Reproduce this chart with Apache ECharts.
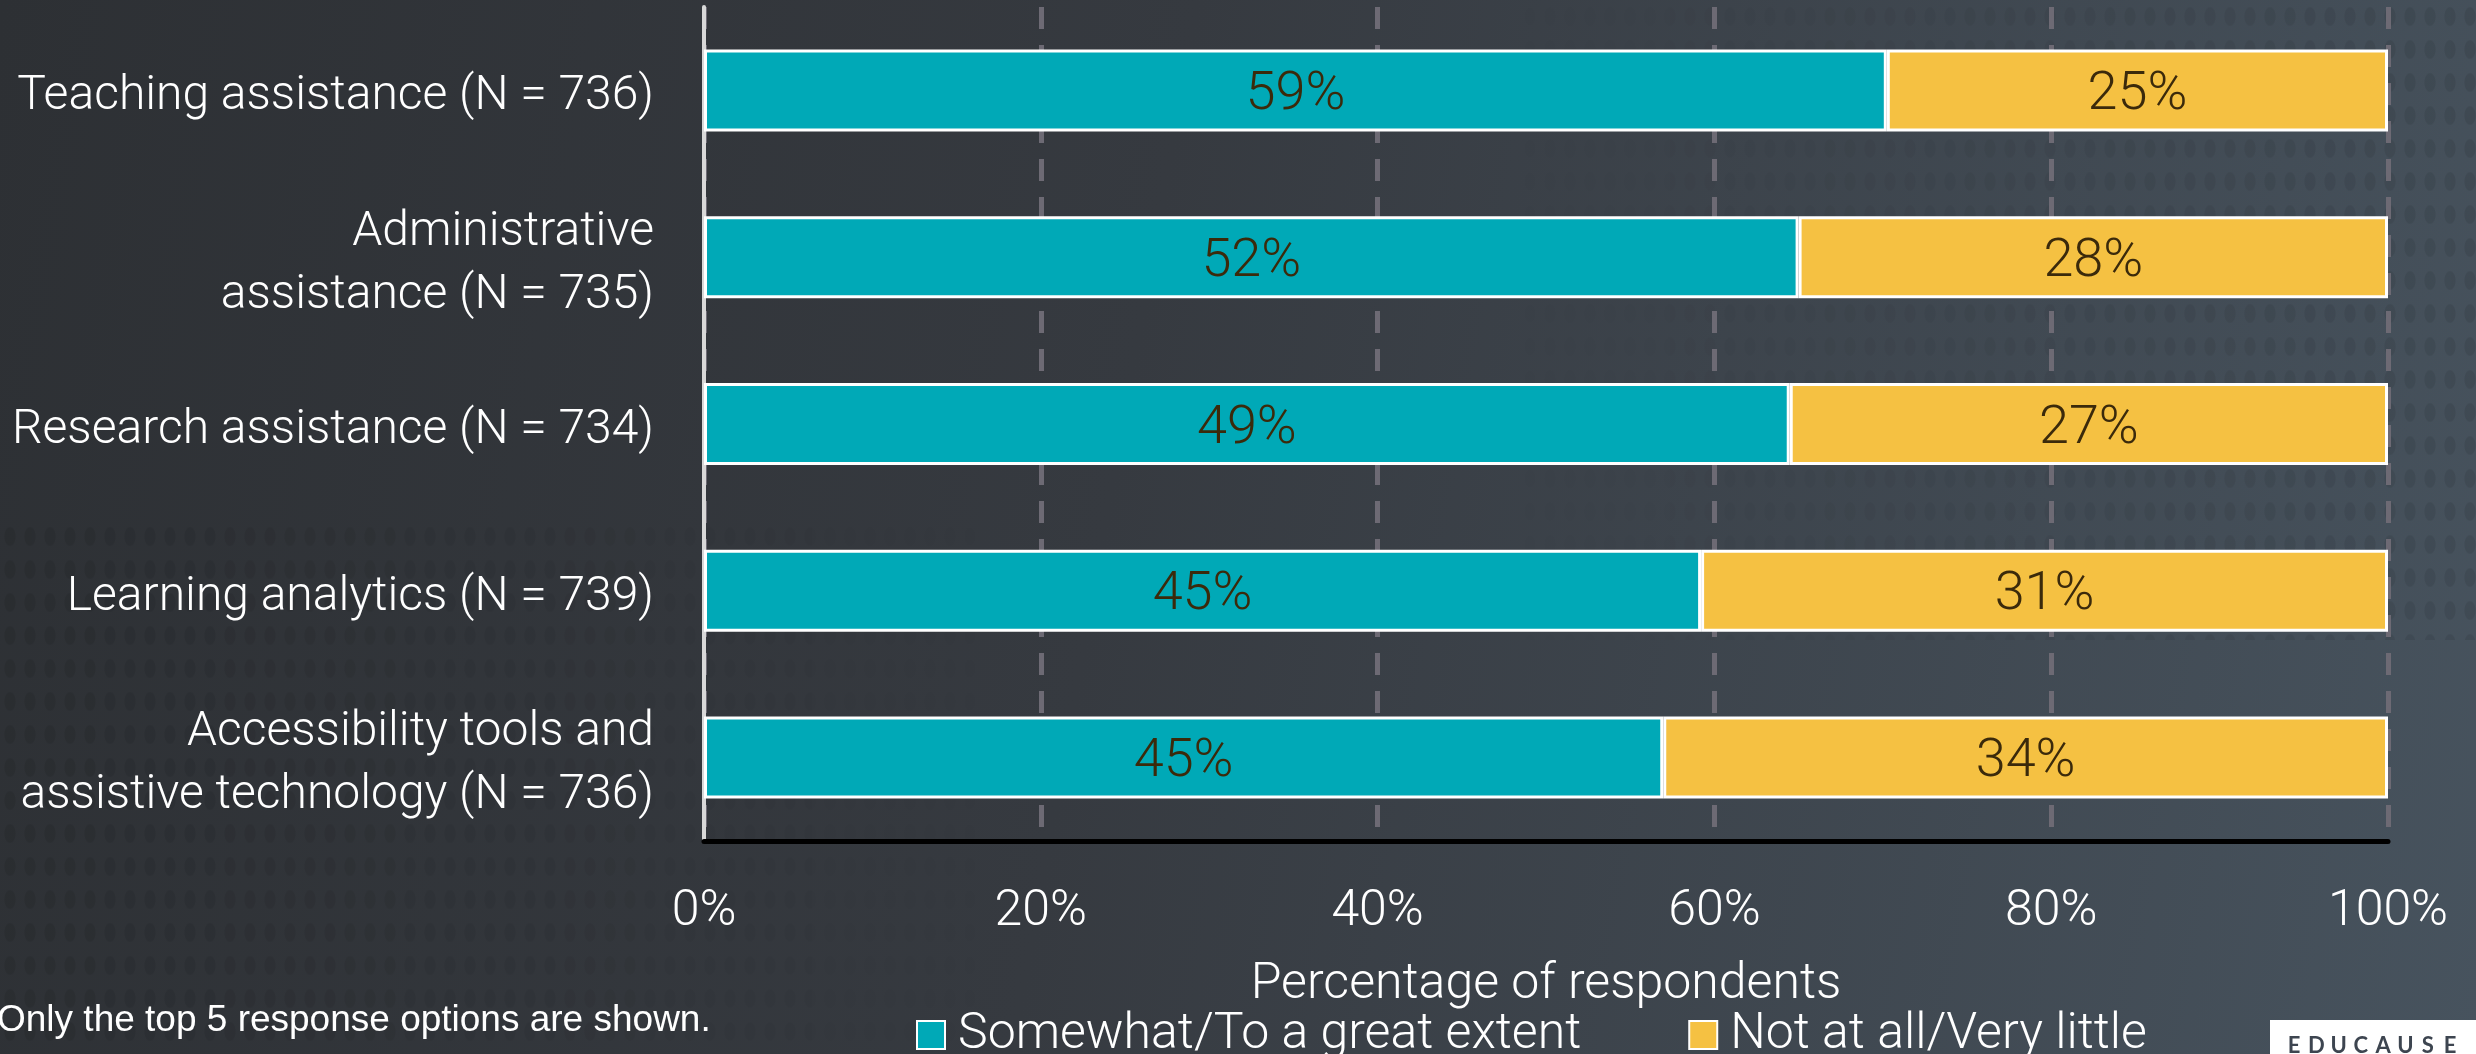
<!DOCTYPE html>
<html>
<head>
<meta charset="utf-8">
<title>AI use cases</title>
<script src="https://cdn.jsdelivr.net/npm/echarts@6.0.0/dist/echarts.min.js"></script>
<style>
  html, body { margin: 0; padding: 0; }
  #chart {
    position: relative;
    z-index: 0;
    width: 2476px;
    height: 1054px;
    background: linear-gradient(100deg, #2d3034 0%, #363a40 45%, #47535e 100%);
  }
  /* faint halftone dots behind the chart */
  #chart::before, #chart::after {
    content: '';
    position: absolute;
    z-index: -1;
    pointer-events: none;
    background-image: radial-gradient(ellipse 6px 10px at 50% 50%, rgba(0, 0, 0, 0.08) 0, rgba(0, 0, 0, 0.08) 85%, transparent 100%);
    background-size: 20px 33px;
  }
  #chart::before {
    left: 0; top: 520px; width: 1000px; height: 534px;
    -webkit-mask-image: linear-gradient(to right, #000 0%, rgba(0,0,0,0.6) 50%, transparent 100%);
    mask-image: linear-gradient(to right, #000 0%, rgba(0,0,0,0.6) 50%, transparent 100%);
  }
  #chart::after {
    left: 1500px; top: 0; width: 976px; height: 640px;
    -webkit-mask-image: linear-gradient(to left, #000 0%, rgba(0,0,0,0.5) 50%, transparent 100%);
    mask-image: linear-gradient(to left, #000 0%, rgba(0,0,0,0.5) 50%, transparent 100%);
  }
</style>
</head>
<body>
<div id="chart"></div>
<script>
var categories = [
  'Teaching assistance (N = 736)',
  'Administrative\nassistance (N = 735)',
  'Research assistance (N = 734)',
  'Learning analytics (N = 739)',
  'Accessibility tools and\nassistive technology (N = 736)'
];
var somewhat = [59, 52, 49, 45, 45];
var notAtAll = [25, 28, 27, 31, 34];
var seriesNames = ['Somewhat/To a great extent', 'Not at all/Very little'];
var xTicks = [0, 20, 40, 60, 80, 100];

var mainFont = 'Roboto';

// the bars fill the axis: each part is its share of the two answers shown
function shareOf(list, other) {
  return list.map(function (v, i) {
    return v / (v + other[i]) * 100;
  });
}

function barSeries(name, values, other, color) {
  return {
    name: name,
    type: 'bar',
    stack: 'total',
    barWidth: 82,
    data: shareOf(values, other),
    itemStyle: { color: color, borderColor: '#ffffff', borderWidth: 3 },
    label: {
      show: true,
      position: 'inside',
      offset: [0, 5],
      color: '#3b2a0b',
      fontFamily: mainFont,
      fontWeight: 300,
      fontSize: 54,
      formatter: function (p) { return values[p.dataIndex] + '%'; }
    }
  };
}

var chart = echarts.init(document.getElementById('chart'));

// logo letters, spread out
var logo = 'EDUCAUSE'.split('').map(function (ch, i) {
  return {
    type: 'text',
    x: 2294 + i * 22.3,
    y: 1046,
    style: {
      text: ch,
      fill: '#3d4550',
      font: 'bold 22px Lato',
      align: 'center',
      verticalAlign: 'middle'
    }
  };
});

var option = {
  animation: false,
  backgroundColor: 'transparent',
  grid: { left: 704, right: 88, top: 7, bottom: 213, containLabel: false },
  legend: {
    left: 916,
    top: 1010,
    itemWidth: 28,
    itemHeight: 28,
    itemGap: 107,
    padding: 0,
    icon: 'rect',
    itemStyle: { borderColor: '#ffffff', borderWidth: 2 },
    textStyle: {
      color: '#ffffff',
      fontFamily: mainFont,
      fontWeight: 300,
      fontSize: 50,
      padding: [0, 0, 0, 8]
    },
    data: seriesNames
  },
  xAxis: {
    type: 'value',
    min: xTicks[0],
    max: xTicks[xTicks.length - 1],
    interval: 20,
    name: 'Percentage of respondents',
    nameLocation: 'middle',
    nameGap: 119,
    nameTextStyle: { color: '#ffffff', fontFamily: mainFont, fontWeight: 300, fontSize: 50 },
    axisLine: { show: true, lineStyle: { color: '#000000', width: 5 } },
    axisTick: { show: false },
    axisLabel: {
      color: '#ffffff',
      fontFamily: mainFont,
      fontWeight: 300,
      fontSize: 50,
      margin: 46,
      formatter: '{value}%'
    },
    splitLine: {
      show: true,
      lineStyle: { color: '#6d6a74', width: 5, type: [22, 16] }
    }
  },
  yAxis: {
    type: 'category',
    inverse: true,
    data: categories,
    axisLine: { show: true, lineStyle: { color: '#d8d8d8', width: 4 } },
    axisTick: { show: false },
    axisLabel: {
      margin: 50,
      align: 'right',
      // each line as a rich token so it can sit a little lower in its line
      formatter: function (value) {
        return value.split('\n').map(function (line) {
          return '{t|' + line + '}';
        }).join('\n');
      },
      rich: {
        t: {
          color: '#ffffff',
          fontFamily: mainFont,
          fontWeight: 300,
          fontSize: 48,
          lineHeight: 63,
          padding: [14, 0, 0, 0],
          align: 'right'
        }
      }
    }
  },
  series: [
    barSeries(seriesNames[0], somewhat, notAtAll, '#00a9b7'),
    barSeries(seriesNames[1], notAtAll, somewhat, '#f5c142')
  ],
  graphic: [
    {
      type: 'text',
      x: -3,
      y: 1021,
      style: {
        text: 'Only the top 5 response options are shown.',
        fill: '#ffffff',
        font: '37px "Liberation Sans"',
        verticalAlign: 'middle'
      }
    },
    {
      type: 'rect',
      shape: { x: 2270, y: 1020, width: 210, height: 40 },
      style: { fill: '#ffffff' }
    }
  ].concat(logo)
};

chart.setOption(option);
</script>
</body>
</html>
